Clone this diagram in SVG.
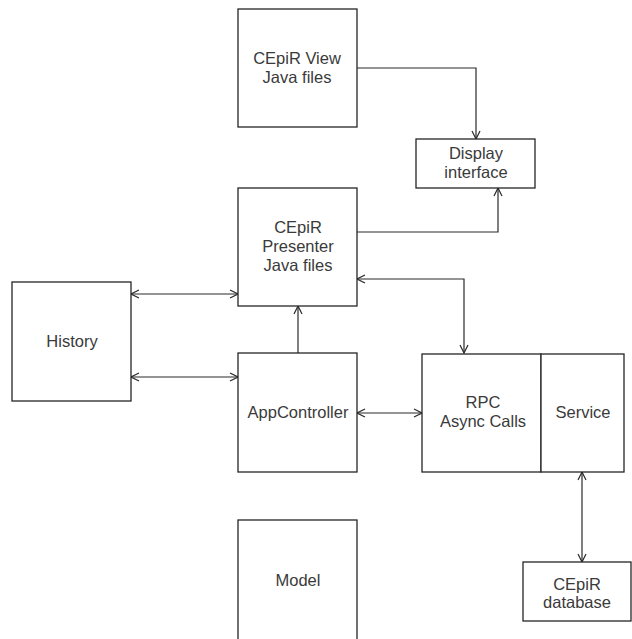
<svg xmlns="http://www.w3.org/2000/svg" width="632" height="639" viewBox="0 0 632 639">
  <style>
    .box { fill: #ffffff; stroke: #262626; stroke-width: 1.3; }
    .lbl { font-family: "Liberation Sans", Arial, sans-serif; font-size: 16.5px; fill: #3a3a3a; text-anchor: middle; }
    .edge { fill: none; stroke: #2a2a2a; stroke-width: 1.2; }
  </style>
  <defs>
    <marker id="arrow" viewBox="0 0 10 10" refX="9" refY="5" markerWidth="10" markerHeight="10" markerUnits="userSpaceOnUse" orient="auto-start-reverse">
      <path d="M1,1 L9,5 L1,9" fill="none" stroke="#2a2a2a" stroke-width="1.2"/>
    </marker>
  </defs>
  <rect width="632" height="639" fill="#ffffff"/>

  <!-- connectors -->
  <g id="connectors">
    <path class="edge" d="M357,68 H476 V139" marker-end="url(#arrow)"/>
    <path class="edge" d="M357,232 H498 V188" marker-end="url(#arrow)"/>
    <path class="edge" d="M357,279 H464 V353" marker-start="url(#arrow)" marker-end="url(#arrow)"/>
    <path class="edge" d="M131,294 H238" marker-start="url(#arrow)" marker-end="url(#arrow)"/>
    <path class="edge" d="M131,377 H238" marker-start="url(#arrow)" marker-end="url(#arrow)"/>
    <path class="edge" d="M298,353 V306" marker-end="url(#arrow)"/>
    <path class="edge" d="M357,413 H422" marker-start="url(#arrow)" marker-end="url(#arrow)"/>
    <path class="edge" d="M582,472 V562" marker-start="url(#arrow)" marker-end="url(#arrow)"/>
  </g>

  <g id="view">
    <rect class="box" x="238" y="9" width="119" height="118"/>
    <text class="lbl" x="297" y="64">CEpiR View</text>
    <text class="lbl" x="297" y="83">Java files</text>
  </g>

  <g id="display">
    <rect class="box" x="416" y="139" width="119" height="49"/>
    <text class="lbl" x="476" y="159">Display</text>
    <text class="lbl" x="476" y="178">interface</text>
  </g>

  <g id="presenter">
    <rect class="box" x="238" y="188" width="119" height="118"/>
    <text class="lbl" x="298" y="233">CEpiR</text>
    <text class="lbl" x="298" y="252">Presenter</text>
    <text class="lbl" x="298" y="271">Java files</text>
  </g>

  <g id="history">
    <rect class="box" x="12" y="282" width="119" height="119"/>
    <text class="lbl" x="72" y="347">History</text>
  </g>

  <g id="appcontroller">
    <rect class="box" x="238" y="353" width="119" height="119"/>
    <text class="lbl" x="298" y="418">AppController</text>
  </g>

  <g id="rpc">
    <rect class="box" x="422" y="354" width="119" height="118"/>
    <text class="lbl" x="483" y="408">RPC</text>
    <text class="lbl" x="483" y="427">Async Calls</text>
  </g>

  <g id="service">
    <rect class="box" x="541" y="354" width="83" height="118"/>
    <text class="lbl" x="583" y="418">Service</text>
  </g>

  <g id="model">
    <rect class="box" x="238" y="520" width="119" height="130"/>
    <text class="lbl" x="298" y="586">Model</text>
  </g>

  <g id="database">
    <rect class="box" x="523" y="562" width="108" height="59"/>
    <text class="lbl" x="577" y="590">CEpiR</text>
    <text class="lbl" x="577" y="608">database</text>
  </g>
</svg>
